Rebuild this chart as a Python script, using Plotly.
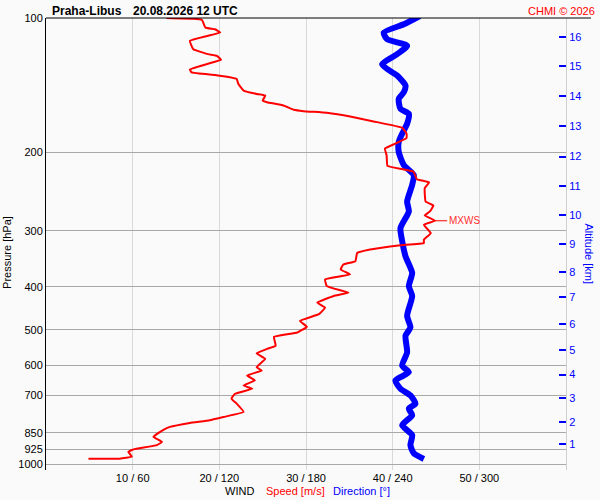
import math
import plotly.graph_objects as go

# ---- data ----
speed_pressure = [100, 100.4, 101.0, 105.1, 106.0, 107.8, 109.7, 112.5, 117.5, 120.5,
                  121.5, 124.0, 126.8, 130.5, 132.4, 134.2, 135.8, 137.0, 140.6, 145.4,
                  148.0, 149.2, 153.1, 154.4, 157.0, 160.6, 161.7, 163.1, 166.2, 170.5,
                  176.2, 181.6, 185.7, 191.2, 196.2, 203.0, 214.4, 218.5, 221.1, 229.9,
                  233.5, 240.8, 257.8, 263.1, 271.3, 277.0, 284.7, 290.6, 303.4, 313.8,
                  319.3, 323.1, 330.3, 336.2, 350.8, 356.8, 366.1, 375.5, 385.3, 398.8,
                  412.7, 419.7, 434.4, 445.7, 461.0, 477.1, 492.0, 506.6, 517.9, 542.3,
                  551.5, 564.1, 580.6, 606.2, 616.6, 632.6, 649.0, 666.0, 677.3, 694.9,
                  712.9, 731.4, 763.7, 783.4, 796.7, 807.8, 824.7, 838.7, 868.0, 890.7,
                  905.8, 926.0, 937.6, 961.8, 971.6, 971.6]
speed_ms = [13.9, 17.0, 18.0, 18.4, 19.5, 20.1, 18.6, 16.6, 17.0, 18.7,
            19.7, 20.2, 18.6, 16.6, 16.8, 19.5, 21.2, 22.0, 22.2, 22.8,
            24.3, 25.3, 25.0, 25.5, 27.4, 28.6, 29.7, 32.4, 35.1, 37.8,
            41.1, 41.6, 41.6, 40.3, 39.1, 39.3, 39.4, 41.3, 42.4, 42.8,
            44.2, 43.7, 43.8, 44.7, 44.3, 43.7, 44.9, 43.6, 44.4, 43.6,
            43.6, 40.9, 37.4, 35.9, 35.7, 34.3, 34.0, 35.1, 32.2, 32.4,
            34.9, 33.2, 31.3, 32.2, 31.5, 29.3, 30.1, 29.0, 26.3, 26.5,
            25.5, 24.3, 25.3, 24.3, 24.9, 23.2, 24.1, 22.8, 23.8, 21.8,
            21.4, 22.0, 22.8, 20.5, 18.9, 16.6, 14.3, 13.5, 12.4, 13.4,
            12.8, 10.1, 9.5, 9.9, 8.5, 4.9]

dir_pressure = [99.0, 103.3, 107.8, 111.6, 115.4, 120.5, 126.8, 130.1, 134.6, 141.7,
                146.7, 151.8, 159.8, 163.9, 172.6, 181.6, 189.6, 199.5, 213.6, 224.8,
                236.6, 257.8, 271.3, 295.7, 316.5, 342.0, 372.4, 398.8, 419.7, 465.1,
                493.7, 515.2, 561.3, 600.9, 622.0, 649.0, 677.3, 701.0, 731.4, 750.5,
                776.6, 817.5, 860.5, 905.8, 945.1, 973.2]
direction_deg = [258.8, 247.7, 233.8, 236.2, 250.0, 243.1, 232.7, 236.2, 243.1, 248.9,
                 247.7, 244.2, 245.4, 251.2, 250.0, 246.6, 244.2, 244.2, 247.7, 254.6,
                 253.5, 250.0, 251.2, 245.4, 246.6, 248.9, 253.5, 251.2, 253.5, 250.0,
                 252.3, 248.9, 250.0, 246.6, 251.2, 241.9, 245.4, 252.3, 255.8, 251.2,
                 253.5, 246.6, 253.5, 252.3, 254.6, 261.6]

pressure_ticks = [100, 200, 300, 400, 500, 600, 700, 850, 925, 1000]
speed_ticks = [10, 20, 30, 40, 50]
speed_tick_text = ["10 / 60", "20 / 120", "30 / 180", "40 / 240", "50 / 300"]
alt_km = [1, 2, 3, 4, 5, 6, 7, 8, 9, 10, 11, 12, 13, 14, 15, 16]
alt_pressure = [902.6, 803.9, 709.3, 629.4, 553.6, 484.5, 421.9, 370.6, 321.0, 277.0,
                237.8, 204.4, 174.6, 149.7, 128.4, 110.1]

title_station = "Praha-Libus"
title_time = "20.08.2026 12 UTC"
credit = "CHMI © 2026"

FONT = "Liberation Sans, Arial, sans-serif"
yrange = [math.log10(1030), 2]

fig = go.Figure()

# direction (scaled so 360° == 60 m/s on the shared axis)
fig.add_trace(go.Scatter(
    x=[d / 6.0 for d in direction_deg], y=dir_pressure, mode="lines",
    line=dict(color="#0000ff", width=6, shape="spline", smoothing=0.6),
    hoverinfo="skip", showlegend=False))

fig.add_trace(go.Scatter(
    x=speed_ms, y=speed_pressure, mode="lines",
    line=dict(color="#ff0000", width=2, shape="spline", smoothing=0.3),
    hoverinfo="skip", showlegend=False))

# right altitude axis carrier trace
fig.add_trace(go.Scatter(x=[None], y=[None], yaxis="y2", showlegend=False, hoverinfo="skip"))

imax = max(range(len(speed_ms)), key=lambda i: speed_ms[i])
mx_s = speed_ms[imax]
mx_p = speed_pressure[imax]
mx_logp = math.log10(mx_p)

shapes = [
    dict(type="line", xref="paper", yref="paper", x0=0, x1=1.048, y0=1, y1=1,
         line=dict(color="black", width=1)),
    dict(type="line", xref="paper", yref="y", x0=-0.008, x1=0.019, y0=mx_logp, y1=mx_logp,
         line=dict(color="#ff0000", width=1.5)),
    dict(type="line", xref="paper", yref="y", x0=0.981, x1=1.0, y0=mx_logp, y1=mx_logp,
         line=dict(color="#ff0000", width=1.5)),
]

annotations = [
    dict(x=mx_s, y=mx_logp, xref="x", yref="y", text="MXWS", showarrow=True,
         arrowhead=0, arrowwidth=1, arrowcolor="#ff0000", ax=12, ay=0, standoff=0,
         xanchor="left", font=dict(family=FONT, size=10, color="#ff3030")),
    dict(x=(50 - 46) / 520, y=1 + 7.5 / 455, xref="paper", yref="paper", text="<b>" + title_station + "</b>",
         showarrow=False, xanchor="left", yanchor="middle",
         font=dict(family=FONT, size=12, color="black")),
    dict(x=(131 - 46) / 520, y=1 + 7.5 / 455, xref="paper", yref="paper", text="<b>" + title_time + "</b>",
         showarrow=False, xanchor="left", yanchor="middle",
         font=dict(family=FONT, size=12, color="black")),
    dict(x=(597 - 46) / 520, y=1 + 7.5 / 455, xref="paper", yref="paper", text=credit,
         showarrow=False, xanchor="right", yanchor="middle",
         font=dict(family=FONT, size=11, color="#ff0000")),
    dict(x=(7.5 - 46) / 520, y=(470 - 251) / 455, xref="paper", yref="paper", text="Pressure [hPa]",
         textangle=-90, showarrow=False, xanchor="center", yanchor="middle",
         font=dict(family=FONT, size=11, color="black")),
    dict(x=(589 - 46) / 520, y=(470 - 252) / 455, xref="paper", yref="paper", text="Altitude [km]",
         textangle=90, showarrow=False, xanchor="center", yanchor="middle",
         font=dict(family=FONT, size=11, color="#0000ff")),
    dict(x=(239 - 46) / 520, y=(470 - 491) / 455, xref="paper", yref="paper", text="WIND",
         showarrow=False, xanchor="center", yanchor="middle",
         font=dict(family=FONT, size=11, color="black")),
    dict(x=(264 - 46) / 520, y=(470 - 491) / 455, xref="paper", yref="paper", text="Speed [m/s]",
         showarrow=False, xanchor="left", yanchor="middle",
         font=dict(family=FONT, size=11, color="#ff0000")),
    dict(x=(331 - 46) / 520, y=(470 - 491) / 455, xref="paper", yref="paper", text="Direction [°]",
         showarrow=False, xanchor="left", yanchor="middle",
         font=dict(family=FONT, size=11, color="#0000ff")),
]

fig.update_layout(
    width=600, height=500,
    margin=dict(l=46, r=34, t=15, b=30, pad=0),
    paper_bgcolor="#fafafa", plot_bgcolor="#fafafa",
    font=dict(family=FONT, size=11, color="black"),
    showlegend=False,
    hovermode=False,
    xaxis=dict(range=[0, 60], tickvals=speed_ticks, ticktext=speed_tick_text,
               showgrid=True, gridcolor="#d9d9d9", gridwidth=1, zeroline=False,
               showline=False, ticks="", tickfont=dict(size=11, color="black"),
               fixedrange=True),
    yaxis=dict(type="log", range=yrange, tickvals=pressure_ticks,
               ticktext=[str(p) for p in pressure_ticks],
               showgrid=True, gridcolor="#a8a8a8", gridwidth=1, zeroline=False,
               showline=True, linecolor="black", linewidth=1, ticks="",
               tickfont=dict(size=11, color="black"), fixedrange=True),
    yaxis2=dict(type="log", range=yrange, overlaying="y", side="right",
                tickvals=alt_pressure, ticktext=[str(k) for k in alt_km],
                showgrid=False, zeroline=False, showline=True, linecolor="#d0d0d0",
                ticks="inside", ticklen=7, tickcolor="#0000ff", tickwidth=1.5,
                tickfont=dict(size=11, color="#0000ff"), fixedrange=True),
    shapes=shapes,
    annotations=annotations,
)

fig.write_html("out.html", config={"displayModeBar": False},
               post_script="document.body.style.margin='0';document.body.style.background='#fafafa';")
